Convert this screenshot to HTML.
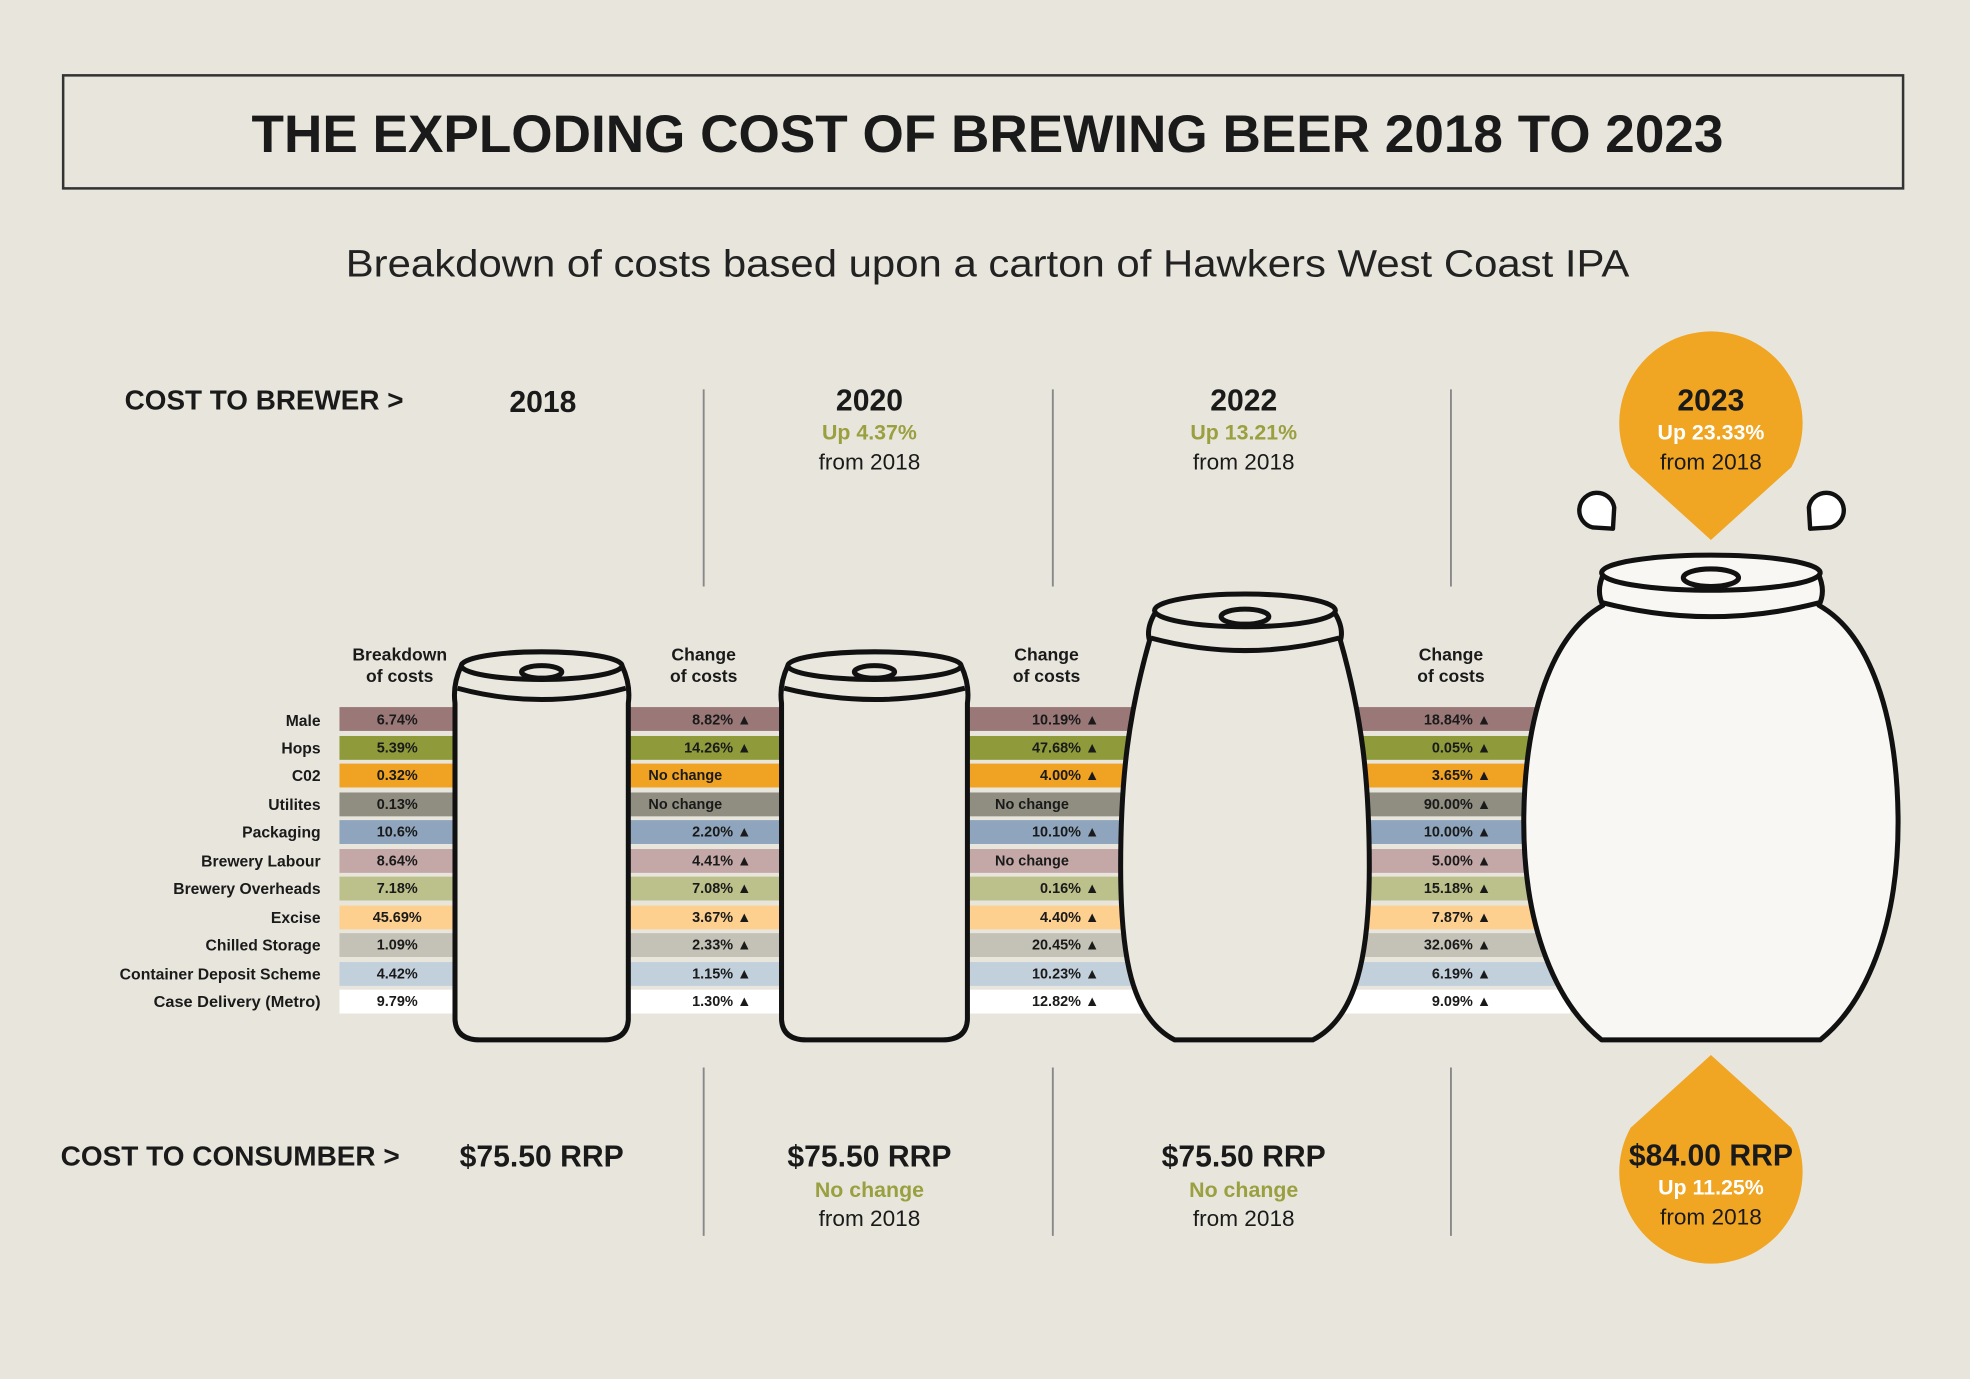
<!DOCTYPE html>
<html><head><meta charset="utf-8"><style>
html,body{margin:0;padding:0;background:#e8e6dc;}
svg{display:block;}
text{font-family:"Liberation Sans Narrow","Liberation Sans",sans-serif;font-weight:bold;}
.lab{font-size:12.5px;text-anchor:end;fill:#1a1a1a;}
.v{font-size:11.5px;fill:#1a1a1a;}
.c{text-anchor:middle;}
.e{text-anchor:end;}
.g{fill:#9aa040;}
.n{font-weight:normal;}
</style></head><body>
<svg width="1970" height="1379" viewBox="0 0 1568 1098" xmlns="http://www.w3.org/2000/svg">
<rect width="1568" height="1098" fill="#e8e6dc"/>
<rect x="50" y="60" width="1465" height="90" fill="none" stroke="#333" stroke-width="2"/>
<text x="786" y="121" class="c" font-size="42" textLength="1172" lengthAdjust="spacingAndGlyphs" fill="#1a1a1a" style="font-family:'Liberation Sans',sans-serif">THE EXPLODING COST OF BREWING BEER 2018 TO 2023</text>
<text x="786" y="220" class="c n" font-size="30" textLength="1022" lengthAdjust="spacingAndGlyphs" fill="#222" style="font-family:'Liberation Sans',sans-serif">Breakdown of costs based upon a carton of Hawkers West Coast IPA</text>

<text x="99" y="326" font-size="22" fill="#1a1a1a" textLength="222" lengthAdjust="spacingAndGlyphs">COST TO BREWER &gt;</text>
<text x="432" y="328" class="c" font-size="24" fill="#1a1a1a">2018</text>
<text x="692" y="327" class="c" font-size="24" fill="#1a1a1a">2020</text>
<text x="692" y="350" class="c g" font-size="17">Up 4.37%</text>
<text x="692" y="374" class="c n" font-size="18" fill="#1a1a1a">from 2018</text>
<text x="990" y="327" class="c" font-size="24" fill="#1a1a1a">2022</text>
<text x="990" y="350" class="c g" font-size="17">Up 13.21%</text>
<text x="990" y="374" class="c n" font-size="18" fill="#1a1a1a">from 2018</text>

<g stroke="#888" stroke-width="1.5">
<line x1="560" y1="310" x2="560" y2="467"/><line x1="838" y1="310" x2="838" y2="467"/><line x1="1155" y1="310" x2="1155" y2="467"/>
<line x1="560" y1="850" x2="560" y2="984"/><line x1="838" y1="850" x2="838" y2="984"/><line x1="1155" y1="850" x2="1155" y2="984"/>
</g>

<!-- drops -->
<path d="M1362,430 L1298,372 A73,73 0 1 1 1426,372 Z" fill="#f0a523"/>
<text x="1362" y="327" class="c" font-size="24" fill="#1a1a1a">2023</text>
<text x="1362" y="350" class="c" font-size="17" fill="#fff">Up 23.33%</text>
<text x="1362" y="374" class="c n" font-size="18" fill="#1a1a1a">from 2018</text>
<path d="M1284,421 L1268,420 A14,14 0 1 1 1285,404 Z" fill="#fff" stroke="#111" stroke-width="3.5" stroke-linejoin="round"/>
<path d="M1441,421 L1457,420 A14,14 0 1 0 1440,404 Z" fill="#fff" stroke="#111" stroke-width="3.5" stroke-linejoin="round"/>
<path d="M1362,840 L1298,898 A73,73 0 1 0 1426,898 Z" fill="#f0a523"/>
<text x="1362" y="928" class="c" font-size="24" fill="#1a1a1a">$84.00 RRP</text>
<text x="1362" y="951" class="c" font-size="17" fill="#fff">Up 11.25%</text>
<text x="1362" y="975" class="c n" font-size="18" fill="#1a1a1a">from 2018</text>

<!-- headers -->
<text x="318" y="526" class="c" font-size="14" fill="#1a1a1a">Breakdown</text>
<text x="318" y="543" class="c" font-size="14" fill="#1a1a1a">of costs</text>
<text x="560" y="526" class="c" font-size="14" fill="#1a1a1a">Change</text>
<text x="560" y="543" class="c" font-size="14" fill="#1a1a1a">of costs</text>
<text x="833" y="526" class="c" font-size="14" fill="#1a1a1a">Change</text>
<text x="833" y="543" class="c" font-size="14" fill="#1a1a1a">of costs</text>
<text x="1155" y="526" class="c" font-size="14" fill="#1a1a1a">Change</text>
<text x="1155" y="543" class="c" font-size="14" fill="#1a1a1a">of costs</text>

<!-- bands -->
<g>
<rect x="270" y="563" width="980" height="19" fill="#9a7878"/>
<rect x="270" y="586" width="980" height="19" fill="#8f9a3a"/>
<rect x="270" y="608" width="980" height="19" fill="#f0a223"/>
<rect x="270" y="631" width="980" height="19" fill="#8f8e80"/>
<rect x="270" y="653" width="980" height="19" fill="#8ea5bd"/>
<rect x="270" y="676" width="980" height="19" fill="#c4a8a8"/>
<rect x="270" y="698" width="980" height="19" fill="#bcc08a"/>
<rect x="270" y="721" width="980" height="19" fill="#fdd08f"/>
<rect x="270" y="743" width="980" height="19" fill="#c4c2b6"/>
<rect x="270" y="766" width="980" height="19" fill="#c2d0dc"/>
<rect x="270" y="788" width="980" height="19" fill="#ffffff"/>
</g>
<g>
<text x="255" y="578" class="lab">Male</text>
<text x="255" y="600" class="lab">Hops</text>
<text x="255" y="622" class="lab">C02</text>
<text x="255" y="645" class="lab">Utilites</text>
<text x="255" y="667" class="lab">Packaging</text>
<text x="255" y="690" class="lab">Brewery Labour</text>
<text x="255" y="712" class="lab">Brewery Overheads</text>
<text x="255" y="735" class="lab">Excise</text>
<text x="255" y="757" class="lab">Chilled Storage</text>
<text x="255" y="780" class="lab" textLength="160" lengthAdjust="spacingAndGlyphs">Container Deposit Scheme</text>
<text x="255" y="802" class="lab" textLength="133" lengthAdjust="spacingAndGlyphs">Case Delivery (Metro)</text>
</g>
<g>
<text x="316" y="577" class="v c">6.74%</text>
<text x="316" y="599" class="v c">5.39%</text>
<text x="316" y="621" class="v c">0.32%</text>
<text x="316" y="644" class="v c">0.13%</text>
<text x="316" y="666" class="v c">10.6%</text>
<text x="316" y="689" class="v c">8.64%</text>
<text x="316" y="711" class="v c">7.18%</text>
<text x="316" y="734" class="v c">45.69%</text>
<text x="316" y="756" class="v c">1.09%</text>
<text x="316" y="779" class="v c">4.42%</text>
<text x="316" y="801" class="v c">9.79%</text>

<text x="598" y="577" class="v e">8.82% ▲</text>
<text x="598" y="599" class="v e">14.26% ▲</text>
<text x="516" y="621" class="v">No change</text>
<text x="516" y="644" class="v">No change</text>
<text x="598" y="666" class="v e">2.20% ▲</text>
<text x="598" y="689" class="v e">4.41% ▲</text>
<text x="598" y="711" class="v e">7.08% ▲</text>
<text x="598" y="734" class="v e">3.67% ▲</text>
<text x="598" y="756" class="v e">2.33% ▲</text>
<text x="598" y="779" class="v e">1.15% ▲</text>
<text x="598" y="801" class="v e">1.30% ▲</text>

<text x="875" y="577" class="v e">10.19% ▲</text>
<text x="875" y="599" class="v e">47.68% ▲</text>
<text x="875" y="621" class="v e">4.00% ▲</text>
<text x="792" y="644" class="v">No change</text>
<text x="875" y="666" class="v e">10.10% ▲</text>
<text x="792" y="689" class="v">No change</text>
<text x="875" y="711" class="v e">0.16% ▲</text>
<text x="875" y="734" class="v e">4.40% ▲</text>
<text x="875" y="756" class="v e">20.45% ▲</text>
<text x="875" y="779" class="v e">10.23% ▲</text>
<text x="875" y="801" class="v e">12.82% ▲</text>

<text x="1187" y="577" class="v e">18.84% ▲</text>
<text x="1187" y="599" class="v e">0.05% ▲</text>
<text x="1187" y="621" class="v e">3.65% ▲</text>
<text x="1187" y="644" class="v e">90.00% ▲</text>
<text x="1187" y="666" class="v e">10.00% ▲</text>
<text x="1187" y="689" class="v e">5.00% ▲</text>
<text x="1187" y="711" class="v e">15.18% ▲</text>
<text x="1187" y="734" class="v e">7.87% ▲</text>
<text x="1187" y="756" class="v e">32.06% ▲</text>
<text x="1187" y="779" class="v e">6.19% ▲</text>
<text x="1187" y="801" class="v e">9.09% ▲</text>
</g>

<!-- cans -->
<g stroke="#111" stroke-width="4" stroke-linejoin="round" fill="#e9e7de">
<path d="M367,530 Q360,545 362,560 L362,812 Q363,828 382,828 L480,828 Q499,828 500,812 L500,560 Q502,545 495,530 Z"/>
<path d="M364,548 Q431,566 498,548" fill="none"/>
<ellipse cx="431" cy="530" rx="64" ry="11"/>
<ellipse cx="431" cy="535" rx="16" ry="5"/>

<path d="M627,530 Q620,545 622,560 L622,812 Q623,828 642,828 L750,828 Q769,828 770,812 L770,560 Q772,545 765,530 Z"/>
<path d="M624,548 Q696,566 768,548" fill="none"/>
<ellipse cx="696" cy="530" rx="69" ry="11"/>
<ellipse cx="696" cy="535" rx="16" ry="5"/>

<path d="M920,487 Q912,500 915,510 C898,570 892,620 892,690 C892,760 900,810 935,828 L1045,828 C1080,810 1090,760 1090,690 C1090,620 1084,570 1067,510 Q1070,500 1062,487 Z"/>
<path d="M916,508 Q991,528 1066,508" fill="none"/>
<ellipse cx="991" cy="486" rx="72" ry="13"/>
<ellipse cx="991" cy="491" rx="19" ry="6"/>

<path d="M1277,456 Q1270,470 1276,482 C1235,505 1214,570 1213,650 C1212,740 1240,800 1275,828 L1449,828 C1484,800 1512,740 1511,650 C1510,570 1489,505 1448,482 Q1454,470 1447,456 Z" fill="#f8f7f3"/>
<path d="M1276,480 Q1362,502 1448,480" fill="none"/>
<ellipse cx="1362" cy="456" rx="87" ry="14" fill="#f8f7f3"/>
<ellipse cx="1362" cy="460" rx="22" ry="7" fill="#f8f7f3"/>
</g>

<text x="48" y="928" font-size="22" fill="#1a1a1a" textLength="270" lengthAdjust="spacingAndGlyphs">COST TO CONSUMBER &gt;</text>
<text x="431" y="929" class="c" font-size="24" fill="#1a1a1a">$75.50 RRP</text>
<text x="692" y="929" class="c" font-size="24" fill="#1a1a1a">$75.50 RRP</text>
<text x="692" y="953" class="c g" font-size="17">No change</text>
<text x="692" y="976" class="c n" font-size="18" fill="#1a1a1a">from 2018</text>
<text x="990" y="929" class="c" font-size="24" fill="#1a1a1a">$75.50 RRP</text>
<text x="990" y="953" class="c g" font-size="17">No change</text>
<text x="990" y="976" class="c n" font-size="18" fill="#1a1a1a">from 2018</text>
</svg>
</body></html>
